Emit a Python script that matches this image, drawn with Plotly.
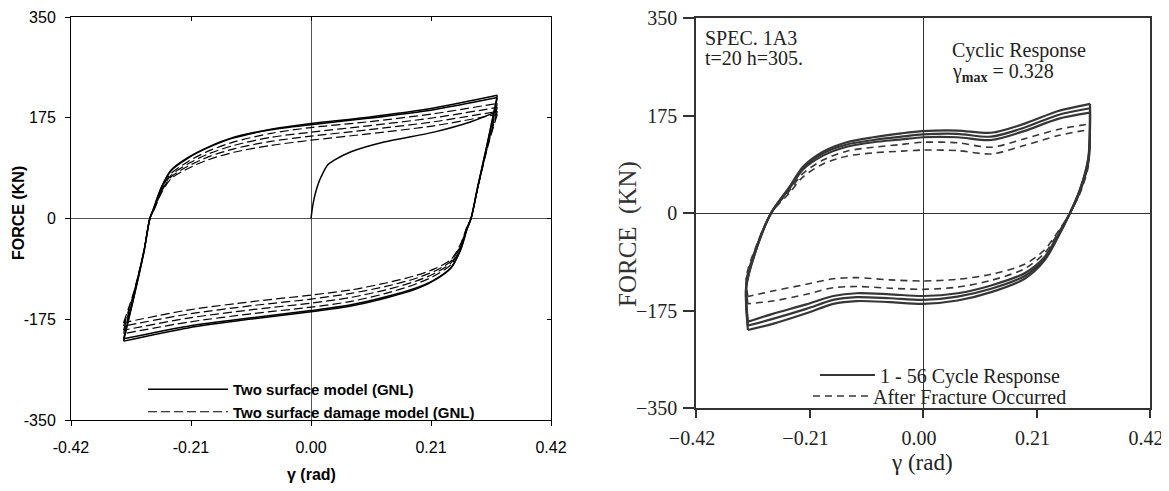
import plotly.graph_objects as go

# ---------------- data ----------------
X_TICKS = [-0.42, -0.21, 0.0, 0.21, 0.42]
X_TICK_TEXT_L = ["-0.42", "-0.21", "0.00", "0.21", "0.42"]
X_TICK_TEXT_R = ["\u22120.42", "\u22120.21", "0.00", "0.21", "0.42"]
Y_TICKS = [-350, -175, 0, 175, 350]
Y_TICK_TEXT_L = ["-350", "-175", "0", "175", "350"]
Y_TICK_TEXT_R = ["\u2212350", "\u2212175", "0", "175", "350"]

# Left panel: two-surface model (solid) and damage model (dashed)
L_INIT_X = [0.0, 0.003, 0.006, 0.0115, 0.0175, 0.029, 0.04, 0.07, 0.128, 0.215, 0.28, 0.326]
L_INIT_Y = [0, 22, 37, 57, 72, 93, 101, 116, 133, 150, 168, 186]

L_UP_X = [-0.328, -0.31, -0.292, -0.282, -0.275, -0.262, -0.245, -0.215, -0.18, -0.135, -0.07, 0.0, 0.1, 0.215, 0.326]
L_UP_S1 = [-213, -137, -56, 0, 19, 54, 84, 106, 124, 141, 155, 165, 176, 192, 214]
L_UP_S2 = [-209, -136, -56, 0, 18, 53, 83, 105, 123, 140, 154, 163, 174, 189, 210]
L_UP_D1 = [-200, -133, -55, 0, 17, 50, 78, 99, 117, 133, 148, 158, 168, 182, 200]
L_UP_D2 = [-194, -131, -55, 0, 16, 48, 75, 95, 112, 127, 141, 150, 161, 175, 193]
L_UP_D3 = [-187, -129, -54, 0, 15, 46, 72, 91, 107, 121, 134, 143, 154, 168, 186]
L_UP_D4 = [-181, -127, -54, 0, 14, 44, 69, 87, 102, 115, 127, 136, 147, 161, 181]

L_DN_X = [0.326, 0.31, 0.292, 0.28, 0.273, 0.262, 0.245, 0.215, 0.18, 0.131, 0.07, 0.0, -0.1, -0.215, -0.328]
L_DN_S1 = [214, 137, 56, 0, -19, -54, -86, -108, -124, -138, -152, -162, -174, -190, -213]
L_DN_S2 = [210, 136, 56, 0, -18, -53, -85, -107, -122, -136, -150, -160, -172, -187, -209]
L_DN_D1 = [200, 133, 55, 0, -17, -50, -80, -100, -115, -130, -144, -154, -165, -180, -200]
L_DN_D2 = [193, 131, 55, 0, -16, -48, -77, -96, -110, -124, -137, -147, -158, -173, -194]
L_DN_D3 = [186, 129, 54, 0, -15, -46, -74, -92, -105, -118, -130, -140, -151, -166, -187]
L_DN_D4 = [181, 127, 54, 0, -14, -44, -71, -88, -100, -112, -124, -133, -144, -159, -181]

# Right panel: test data SPEC. 1A3 (solid = cycles 1-56, dashed = after fracture)
R_UP_X = [-0.324, -0.327, -0.309, -0.281, -0.247, -0.222, -0.185, -0.141, -0.092, -0.04, 0.0, 0.064, 0.126, 0.187, 0.25, 0.309]
R_UP_S1 = [-210, -133, -67, 0, 47, 83, 110, 127, 136, 143, 147, 148, 144, 160, 183, 196]
R_UP_S2 = [-202, -131, -66, 0, 46, 81, 107, 123, 131, 137, 141, 142, 137, 153, 176, 188]
R_UP_S3 = [-195, -129, -65, 0, 44, 78, 103, 119, 127, 132, 136, 136, 131, 147, 169, 180]
R_UP_D1 = [-163, -120, -62, 0, 40, 71, 95, 111, 118, 123, 127, 126, 118, 133, 150, 160]
R_UP_D2 = [-150, -115, -60, 0, 36, 65, 88, 102, 108, 111, 113, 112, 106, 121, 139, 150]

R_DN_X = [0.309, 0.306, 0.29, 0.272, 0.25, 0.225, 0.188, 0.126, 0.064, 0.0, -0.061, -0.123, -0.166, -0.216, -0.278, -0.324]
R_DN_S1 = [196, 100, 41, 0, -43, -85, -118, -142, -157, -163, -160, -158, -163, -180, -199, -210]
R_DN_S2 = [188, 97, 40, 0, -41, -82, -113, -136, -150, -156, -153, -151, -156, -172, -190, -202]
R_DN_S3 = [180, 94, 39, 0, -39, -79, -108, -130, -144, -149, -146, -144, -149, -164, -181, -195]
R_DN_D1 = [160, 88, 36, 0, -36, -72, -100, -121, -133, -137, -135, -132, -134, -146, -158, -163]
R_DN_D2 = [150, 84, 34, 0, -33, -66, -92, -110, -119, -122, -120, -116, -118, -128, -140, -150]

# ---------------- figure ----------------
fig = go.Figure()

L_SOLID = dict(color="black", width=1.5, shape="spline", smoothing=0.8)
L_DASH = dict(color="black", width=1.2, dash="9px,4px", shape="spline", smoothing=0.8)
R_COL = "#363636"
R_SOLID = dict(color=R_COL, width=2.2, shape="spline", smoothing=0.8)
R_DASH = dict(color=R_COL, width=1.6, dash="7px,5px", shape="spline", smoothing=0.8)

def add(x, y, line, xa, ya, name=None, legend="legend", group=None):
    fig.add_trace(go.Scatter(
        x=x, y=y, mode="lines", line=line, xaxis=xa, yaxis=ya,
        name=name if name else "", showlegend=name is not None,
        legend=legend, legendgroup=group, hoverinfo="skip"))

# left panel
add(L_INIT_X, L_INIT_Y, L_SOLID, "x", "y", "Two surface model (GNL)", "legend", "ls")
for up, dn in [(L_UP_S1, L_DN_S1), (L_UP_S2, L_DN_S2)]:
    add(L_UP_X, up, L_SOLID, "x", "y", group="ls")
    add(L_DN_X, dn, L_SOLID, "x", "y", group="ls")
first = True
for up, dn in [(L_UP_D1, L_DN_D1), (L_UP_D2, L_DN_D2), (L_UP_D3, L_DN_D3), (L_UP_D4, L_DN_D4)]:
    add(L_UP_X, up, L_DASH, "x", "y",
        "Two surface damage model (GNL)" if first else None, "legend", "ld")
    add(L_DN_X, dn, L_DASH, "x", "y", group="ld")
    first = False

# right panel
first = True
for up, dn in [(R_UP_S1, R_DN_S1), (R_UP_S2, R_DN_S2), (R_UP_S3, R_DN_S3)]:
    add(R_UP_X, up, R_SOLID, "x2", "y2",
        "1 - 56 Cycle Response" if first else None, "legend2", "rs")
    add(R_DN_X, dn, R_SOLID, "x2", "y2", group="rs")
    first = False
first = True
for up, dn in [(R_UP_D1, R_DN_D1), (R_UP_D2, R_DN_D2)]:
    add(R_UP_X, up, R_DASH, "x2", "y2",
        "After Fracture Occurred" if first else None, "legend3", "rd")
    add(R_DN_X, dn, R_DASH, "x2", "y2", group="rd")
    first = False

# dummy trace to activate overlay axes (inner ticks on the left panel)
fig.add_trace(go.Scatter(x=[None], y=[None], xaxis="x3", yaxis="y3",
                         showlegend=False, hoverinfo="skip"))

# the page body has an 8px margin: the figure sits at (8, 8) in the window
OFF = 8
W, H = 1169 - OFF, 491 - 2 * OFF
def px(x):
    return (x - OFF) / W
def py(y):
    return 1 - (y - OFF) / H

SANS = "Liberation Sans, Arial, sans-serif"
SERIF = "Liberation Serif, Times New Roman, serif"
L_FONT = dict(family=SANS, size=16, color="black")
R_FONT = dict(family=SERIF, size=20, color="#222")

common_x = dict(range=[-0.42, 0.42], tickvals=X_TICKS, showgrid=False,
                fixedrange=True, automargin=False, ticklabeloverflow="allow")
common_y = dict(range=[-350, 350], tickvals=Y_TICKS, showgrid=False,
                fixedrange=True, automargin=False, ticklabeloverflow="allow")

fig.update_layout(
    template="none",
    width=W, height=H,
    margin=dict(l=0, r=0, t=0, b=0, pad=0),
    paper_bgcolor="white", plot_bgcolor="white",
    xaxis=dict(**common_x, domain=[px(71), px(551)], anchor="y",
               ticktext=X_TICK_TEXT_L, ticks="outside", ticklen=5, tickcolor="black",
               showline=True, linecolor="black", linewidth=1, mirror=True,
               zeroline=True, zerolinecolor="#555", zerolinewidth=1,
               tickfont=L_FONT, ticklabelstandoff=8),
    yaxis=dict(**common_y, domain=[py(420), py(17)], anchor="x",
               ticktext=Y_TICK_TEXT_L, ticks="outside", ticklen=5, tickcolor="black",
               showline=True, linecolor="black", linewidth=1, mirror=True,
               zeroline=True, zerolinecolor="#555", zerolinewidth=1,
               tickfont=L_FONT, ticklabelstandoff=6),
    xaxis3=dict(**common_x, overlaying="x", side="top", anchor="y",
                ticks="inside", ticklen=4, tickcolor="black",
                showticklabels=False, showline=False, zeroline=False),
    yaxis3=dict(**common_y, overlaying="y", side="right", anchor="x",
                ticks="inside", ticklen=4, tickcolor="black",
                showticklabels=False, showline=False, zeroline=False),
    xaxis2=dict(**common_x, domain=[px(696), px(1150)], anchor="y2",
                ticktext=X_TICK_TEXT_R, ticks="outside", ticklen=8, tickcolor="#333",
                tickwidth=1.5,
                showline=True, linecolor="#333", linewidth=1.5, mirror=True,
                zeroline=True, zerolinecolor="#333", zerolinewidth=1.3,
                tickfont=R_FONT, ticklabelstandoff=3, ticklabelshift=-4),
    yaxis2=dict(**common_y, domain=[py(408), py(18)], anchor="x2",
                ticktext=Y_TICK_TEXT_R, ticks="outside", ticklen=11, tickcolor="#333",
                tickwidth=1.5,
                showline=True, linecolor="#333", linewidth=1.5, mirror=True,
                zeroline=True, zerolinecolor="#333", zerolinewidth=1.3,
                tickfont=R_FONT, ticklabelstandoff=2),
    legend=dict(x=px(143), y=py(373), xanchor="left", yanchor="top",
                bgcolor="rgba(0,0,0,0)", borderwidth=0, itemwidth=80,
                font=dict(family=SANS, size=15, color="black", weight="bold"),
                tracegroupgap=0),
    legend2=dict(x=px(815), y=py(375), xanchor="left", yanchor="middle",
                 bgcolor="rgba(0,0,0,0)", borderwidth=0, itemwidth=55,
                 font=dict(R_FONT, size=20)),
    legend3=dict(x=px(808), y=py(396), xanchor="left", yanchor="middle",
                 bgcolor="rgba(0,0,0,0)", borderwidth=0, itemwidth=55,
                 font=dict(R_FONT, size=20)),
)

ann = []
# axis titles
ann.append(dict(text="<b>FORCE (KN)</b>", x=px(18), y=py(213), textangle=-90,
                font=dict(family=SANS, size=16, color="black")))
ann.append(dict(text="<b>\u03b3 (rad)</b>", x=px(311), y=py(474),
                font=dict(family=SANS, size=16, color="black")))
ann.append(dict(text="FORCE  (KN)", x=px(628), y=py(234), textangle=-90,
                font=dict(family=SERIF, size=25, color="#333")))
ann.append(dict(text="\u03b3 (rad)", x=px(922), y=py(462),
                font=dict(R_FONT, size=23)))
# right panel labels
ann.append(dict(text="SPEC. 1A3", x=px(703), y=py(38), xanchor="left",
                font=R_FONT))
ann.append(dict(text="t=20 h=305.", x=px(703), y=py(58), xanchor="left",
                font=R_FONT))
ann.append(dict(text="Cyclic Response", x=px(950), y=py(50), xanchor="left",
                font=R_FONT))
ann.append(dict(text="\u03b3<sub><b>max</b></sub> = 0.328", x=px(950), y=py(72), xanchor="left",
                font=R_FONT))
for a in ann:
    a.update(xref="paper", yref="paper", showarrow=False)
    a.setdefault("xanchor", "center")
    a.setdefault("yanchor", "middle")
fig.update_layout(annotations=ann)

fig.write_html("out.html")
